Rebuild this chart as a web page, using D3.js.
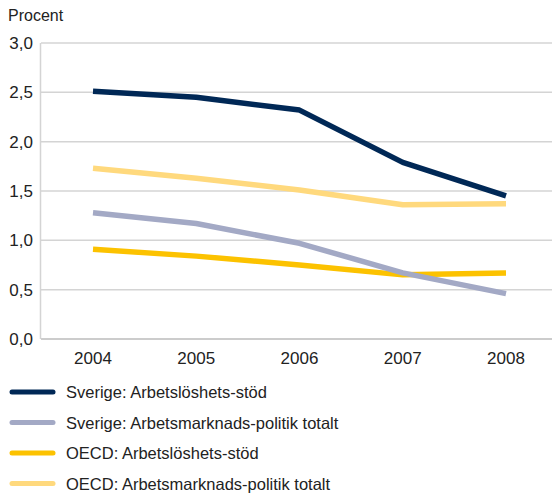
<!DOCTYPE html>
<html>
<head>
<meta charset="utf-8">
<script src="https://cdn.jsdelivr.net/npm/d3@7"></script>
<style>
  body { margin: 0; background: #fff; }
  text { font-family: "Liberation Sans", Arial, sans-serif; fill: #222; }
</style>
</head>
<body>
<div id="chart"></div>
<script>
var years = ["2004", "2005", "2006", "2007", "2008"];
var yTicks = [0, 0.5, 1, 1.5, 2, 2.5, 3];

var seStod = [2.51, 2.45, 2.32, 1.79, 1.45];
var seTotalt = [1.28, 1.17, 0.97, 0.67, 0.46];
var oecdStod = [0.91, 0.84, 0.75, 0.65, 0.67];
var oecdTotalt = [1.73, 1.63, 1.51, 1.36, 1.37];

var seriesNames = [
    "Sverige: Arbetslöshets-stöd",
    "Sverige: Arbetsmarknads-politik totalt",
    "OECD: Arbetslöshets-stöd",
    "OECD: Arbetsmarknads-politik totalt"
];
var colors = ["#002856", "#a3a9c5", "#fcc200", "#ffd97d"];

var series = [seStod, seTotalt, oecdStod, oecdTotalt];
// draw order: light ones below dark one
var drawOrder = [3, 2, 1, 0];

var width = 552, height = 494;
var svg = d3.select("#chart").append("svg")
    .attr("width", width)
    .attr("height", height);

var x = d3.scalePoint().domain(years).range([93, 506]);
var y = d3.scaleLinear().domain([0, 3]).range([339, 43]);

// gridlines
svg.append("g").selectAll("line").data(yTicks).enter().append("line")
    .attr("x1", 41).attr("x2", width)
    .attr("y1", function (d) { return y(d); })
    .attr("y2", function (d) { return y(d); })
    .style("stroke", function (d) { return d === 0 ? "#bbb" : "#d4d4d4"; })
    .style("stroke-width", 1.5);

// left axis line
svg.append("line")
    .attr("x1", 40.5).attr("x2", 40.5)
    .attr("y1", y(3)).attr("y2", y(0))
    .style("stroke", "#d4d4d4").style("stroke-width", 1.5);

// y labels
svg.append("g").selectAll("text").data(yTicks).enter().append("text")
    .attr("x", 33)
    .attr("y", function (d) { return y(d) + 6; })
    .attr("text-anchor", "end")
    .style("font-size", "17px")
    .text(function (d) { return d3.format(".1f")(d).replace(".", ","); });

// x labels
svg.append("g").selectAll("text").data(years).enter().append("text")
    .attr("x", function (d) { return x(d); })
    .attr("y", 364)
    .attr("text-anchor", "middle")
    .style("font-size", "17px")
    .text(function (d) { return d; });

svg.append("text")
    .attr("x", 8).attr("y", 21)
    .style("font-size", "16px")
    .text("Procent");

var line = d3.line()
    .x(function (d, i) { return x(years[i]); })
    .y(function (d) { return y(d); });

drawOrder.forEach(function (k) {
    svg.append("path")
        .datum(series[k])
        .attr("d", line)
        .style("fill", "none")
        .style("stroke", colors[k])
        .style("stroke-width", 5.5)
        .style("stroke-linejoin", "round");
});

// legend
var legend = svg.append("g").selectAll("g").data(seriesNames).enter().append("g")
    .attr("transform", function (d, i) { return "translate(0," + (392 + i * 30.5) + ")"; });
legend.append("line")
    .attr("x1", 12).attr("x2", 53)
    .attr("y1", 0).attr("y2", 0)
    .style("stroke", function (d, i) { return colors[i]; })
    .style("stroke-width", 5)
    .style("stroke-linecap", "round");
legend.append("text")
    .attr("x", 66).attr("y", 6)
    .style("font-size", "16.5px")
    .text(function (d) { return d; });
</script>
</body>
</html>
